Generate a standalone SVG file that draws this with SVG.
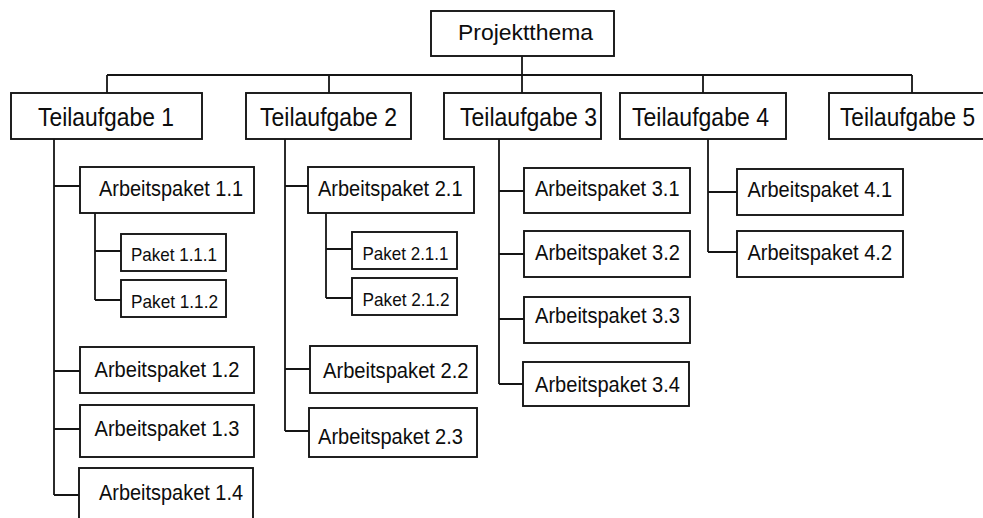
<svg xmlns="http://www.w3.org/2000/svg" width="983" height="518" viewBox="0 0 983 518">
<style>
rect{fill:#fff;stroke:#151515;stroke-width:1.9}
text{font-family:"Liberation Sans",Arial,sans-serif;fill:#0d0d0d}
.t0{font-size:22px}
.t1{font-size:25px}
.t2{font-size:22px}
.t3{font-size:19px}
#connectors path{fill:none;stroke:#151515;stroke-width:1.8}
</style>
<rect x="0" y="0" width="983" height="518" style="fill:#fff;stroke:none"/>
<g id="connectors">
<path d="M522,56V93M107,75H912M107,75V93M329,75V93M703,75V93M912,75V93"/>
<path d="M54,139V495M54,186H80M54,371H80M54,429H80M54,495H79"/>
<path d="M95,213V300M95,251H121M95,300H121"/>
<path d="M285,139V431M285,186H308M285,369H310M285,431H309"/>
<path d="M326,213V298M326,249H352M326,298H352"/>
<path d="M499,139V384M499,191H524M499,254H524M499,319H524M499,384H523"/>
<path d="M708,139V252M708,192H737M708,252H737"/>
</g>
<g id="projektthema"><rect x="431" y="11" width="183" height="45"/><text class="t0" x="458" y="40" textLength="135" lengthAdjust="spacingAndGlyphs">Projektthema</text></g>
<g id="ta1"><rect x="11" y="93" width="191" height="46"/><text class="t1" x="38" y="126" textLength="136" lengthAdjust="spacingAndGlyphs">Teilaufgabe 1</text></g>
<g id="ta2"><rect x="246" y="93" width="165" height="46"/><text class="t1" x="260" y="126" textLength="137" lengthAdjust="spacingAndGlyphs">Teilaufgabe 2</text></g>
<g id="ta3"><rect x="444" y="93" width="157" height="46"/><text class="t1" x="460" y="126" textLength="137" lengthAdjust="spacingAndGlyphs">Teilaufgabe 3</text></g>
<g id="ta4"><rect x="620" y="93" width="166" height="46"/><text class="t1" x="632" y="126" textLength="137" lengthAdjust="spacingAndGlyphs">Teilaufgabe 4</text></g>
<g id="ta5"><rect x="829" y="93" width="170" height="46"/><text class="t1" x="840" y="126" textLength="135" lengthAdjust="spacingAndGlyphs">Teilaufgabe 5</text></g>
<g id="ap11"><rect x="80" y="167" width="174" height="46"/><text class="t2" x="99" y="196" textLength="144" lengthAdjust="spacingAndGlyphs">Arbeitspaket 1.1</text></g>
<g id="p111"><rect x="121" y="234" width="105" height="37"/><text class="t3" x="131" y="261" textLength="86" lengthAdjust="spacingAndGlyphs">Paket 1.1.1</text></g>
<g id="p112"><rect x="121" y="280" width="105" height="37"/><text class="t3" x="131" y="307.5" textLength="87" lengthAdjust="spacingAndGlyphs">Paket 1.1.2</text></g>
<g id="ap12"><rect x="80" y="347" width="174" height="46"/><text class="t2" x="94.5" y="377" textLength="145" lengthAdjust="spacingAndGlyphs">Arbeitspaket 1.2</text></g>
<g id="ap13"><rect x="80" y="405" width="174" height="52"/><text class="t2" x="94.5" y="436" textLength="145" lengthAdjust="spacingAndGlyphs">Arbeitspaket 1.3</text></g>
<g id="ap14"><rect x="79" y="468" width="174" height="60"/><text class="t2" x="99" y="500" textLength="144" lengthAdjust="spacingAndGlyphs">Arbeitspaket 1.4</text></g>
<g id="ap21"><rect x="308" y="167" width="166" height="46"/><text class="t2" x="318" y="196" textLength="144.5" lengthAdjust="spacingAndGlyphs">Arbeitspaket 2.1</text></g>
<g id="p211"><rect x="352" y="232" width="105" height="37"/><text class="t3" x="362.5" y="260" textLength="86" lengthAdjust="spacingAndGlyphs">Paket 2.1.1</text></g>
<g id="p212"><rect x="352" y="278" width="105" height="37"/><text class="t3" x="362.5" y="306" textLength="87" lengthAdjust="spacingAndGlyphs">Paket 2.1.2</text></g>
<g id="ap22"><rect x="310" y="346" width="167" height="47"/><text class="t2" x="323" y="378" textLength="145.5" lengthAdjust="spacingAndGlyphs">Arbeitspaket 2.2</text></g>
<g id="ap23"><rect x="309" y="408" width="168" height="49"/><text class="t2" x="318" y="444" textLength="145" lengthAdjust="spacingAndGlyphs">Arbeitspaket 2.3</text></g>
<g id="ap31"><rect x="524" y="168" width="166" height="45"/><text class="t2" x="535" y="196" textLength="144.5" lengthAdjust="spacingAndGlyphs">Arbeitspaket 3.1</text></g>
<g id="ap32"><rect x="524" y="231" width="166" height="46"/><text class="t2" x="535" y="260" textLength="145" lengthAdjust="spacingAndGlyphs">Arbeitspaket 3.2</text></g>
<g id="ap33"><rect x="524" y="297" width="166" height="46"/><text class="t2" x="535" y="323" textLength="145" lengthAdjust="spacingAndGlyphs">Arbeitspaket 3.3</text></g>
<g id="ap34"><rect x="523" y="362" width="166" height="44"/><text class="t2" x="535" y="392" textLength="145" lengthAdjust="spacingAndGlyphs">Arbeitspaket 3.4</text></g>
<g id="ap41"><rect x="737" y="169" width="166" height="46"/><text class="t2" x="747.5" y="197" textLength="144.5" lengthAdjust="spacingAndGlyphs">Arbeitspaket 4.1</text></g>
<g id="ap42"><rect x="737" y="231" width="166" height="46"/><text class="t2" x="747.5" y="259.5" textLength="144.5" lengthAdjust="spacingAndGlyphs">Arbeitspaket 4.2</text></g>
</svg>
